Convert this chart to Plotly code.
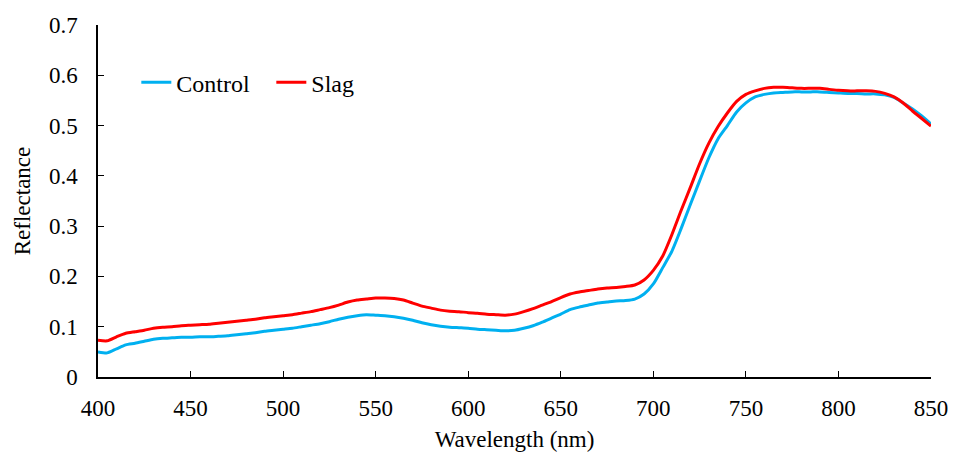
import plotly.graph_objects as go

wavelength = list(range(400, 855, 5))

control = [
    0.050, 0.048, 0.056, 0.064, 0.067, 0.071, 0.075, 0.077, 0.078, 0.079,
    0.079, 0.080, 0.080, 0.081, 0.082, 0.084, 0.086, 0.088, 0.091, 0.093,
    0.095, 0.097, 0.100, 0.103, 0.106, 0.110, 0.115, 0.119, 0.122, 0.124,
    0.123, 0.122, 0.120, 0.117, 0.113, 0.108, 0.104, 0.101, 0.099, 0.098,
    0.097, 0.095, 0.094, 0.093, 0.092, 0.093, 0.097, 0.102, 0.109, 0.117,
    0.125, 0.134, 0.139, 0.143, 0.147, 0.149, 0.151, 0.152, 0.155, 0.165,
    0.185, 0.217, 0.250, 0.295, 0.343, 0.390, 0.436, 0.474, 0.500, 0.527,
    0.545, 0.557, 0.562, 0.565, 0.566, 0.567, 0.567, 0.567, 0.567, 0.566,
    0.565, 0.564, 0.564, 0.563, 0.563, 0.561, 0.556, 0.545, 0.533, 0.519,
    0.503,
]

slag = [
    0.073, 0.072, 0.080, 0.087, 0.090, 0.093, 0.097, 0.099, 0.100, 0.102,
    0.103, 0.104, 0.105, 0.107, 0.109, 0.111, 0.113, 0.115, 0.118, 0.120,
    0.122, 0.124, 0.127, 0.130, 0.134, 0.138, 0.143, 0.149, 0.153, 0.155,
    0.157, 0.157, 0.156, 0.153, 0.147, 0.141, 0.137, 0.133, 0.131, 0.130,
    0.128, 0.127, 0.125, 0.124, 0.123, 0.125, 0.130, 0.136, 0.143, 0.150,
    0.158, 0.165, 0.169, 0.172, 0.175, 0.177, 0.178, 0.180, 0.183, 0.193,
    0.212, 0.240, 0.283, 0.331, 0.377, 0.424, 0.465, 0.498, 0.525, 0.548,
    0.562, 0.569, 0.574, 0.576, 0.576, 0.575, 0.574, 0.574, 0.574, 0.572,
    0.570, 0.569, 0.569, 0.569, 0.568, 0.564, 0.557, 0.545, 0.529, 0.514,
    0.499,
]

x_ticks = [400, 450, 500, 550, 600, 650, 700, 750, 800, 850]
y_ticks = [0, 0.1, 0.2, 0.3, 0.4, 0.5, 0.6, 0.7]
y_tick_text = ["0", "0.1", "0.2", "0.3", "0.4", "0.5", "0.6", "0.7"]

font_family = "Liberation Serif"

fig = go.Figure()
fig.add_trace(go.Scatter(x=wavelength, y=control, name="Control", mode="lines",
                         line=dict(color="#00B0F0", width=3, shape="spline", smoothing=0.6)))
fig.add_trace(go.Scatter(x=wavelength, y=slag, name="Slag", mode="lines",
                         line=dict(color="#FF0000", width=3, shape="spline", smoothing=0.6)))

fig.update_layout(
    width=962, height=452,
    margin=dict(l=98, r=31, t=25, b=75),
    paper_bgcolor="white", plot_bgcolor="white",
    font=dict(family=font_family, size=23, color="black"),
    legend=dict(orientation="h", x=0.046, y=0.836, xanchor="left", yanchor="middle",
                bgcolor="rgba(0,0,0,0)", font=dict(size=24), itemwidth=30,
                entrywidth=90, entrywidthmode="pixels", tracegroupgap=0),
    showlegend=True,
)
fig.update_xaxes(range=[400, 850], tickvals=x_ticks, ticks="inside", ticklen=6,
                 tickwidth=1, tickcolor="black", showline=True, linecolor="black",
                 linewidth=1.5, showgrid=False, zeroline=False, automargin=False,
                 ticklabelstandoff=10,
                 title=dict(text="Wavelength (nm)", standoff=12, font=dict(size=23)),
                 tickfont=dict(size=23))
fig.update_yaxes(range=[0, 0.7], tickvals=y_ticks, ticktext=y_tick_text, ticks="inside",
                 ticklen=6, tickwidth=1, tickcolor="black", showline=True,
                 linecolor="black", linewidth=1.5, showgrid=False, zeroline=False,
                 automargin=False, ticklabelstandoff=14,
                 title=dict(text="Reflectance", standoff=12, font=dict(size=23)),
                 tickfont=dict(size=23))

fig.write_html("out.html")
